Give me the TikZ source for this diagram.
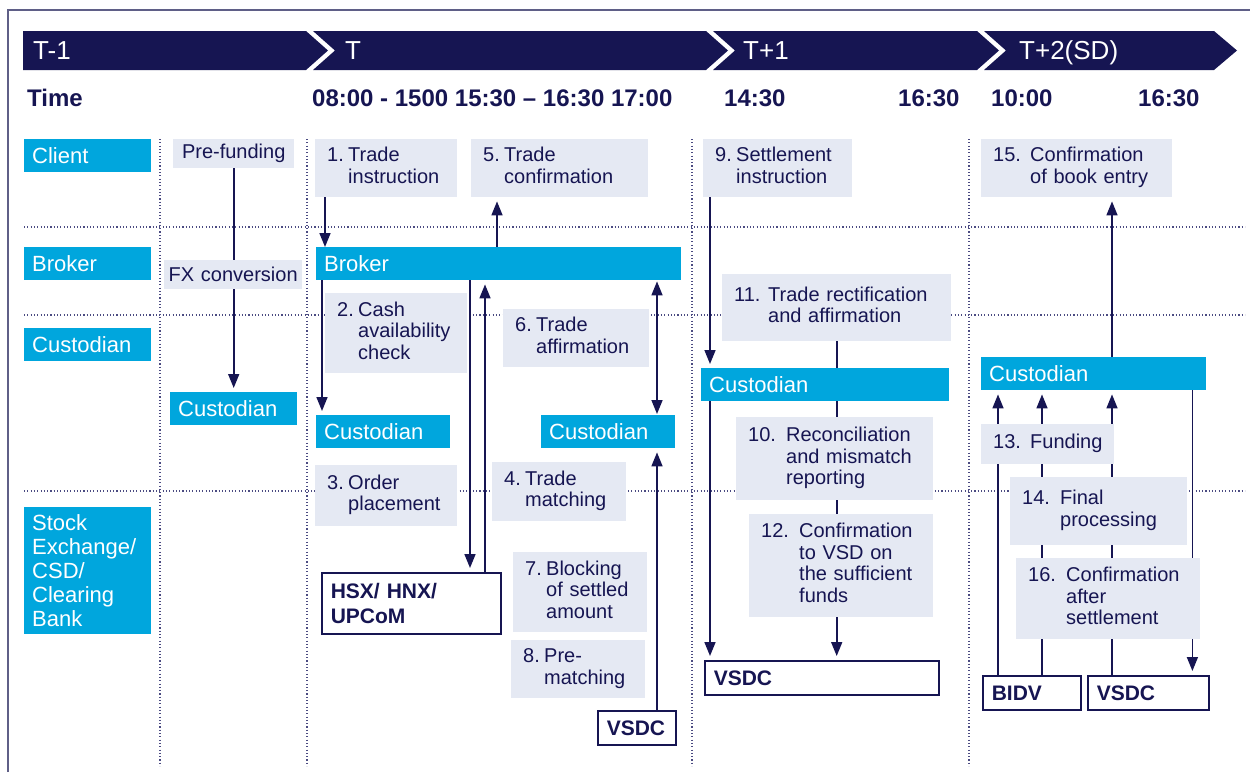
\documentclass[tikz,border=0pt]{standalone}
\usepackage{fontspec}
\setmainfont{Liberation Sans}
\usetikzlibrary{arrows.meta,backgrounds}

\definecolor{navy}{RGB}{22,21,82}
\definecolor{laneblue}{RGB}{0,166,221}
\definecolor{stepgray}{RGB}{229,233,243}
\definecolor{dotnavy}{RGB}{75,75,130}
\definecolor{framenavy}{RGB}{95,95,135}

\newcommand\stp[3][21pt]{\makebox[#1][l]{#2}\begin{tabular}[t]{@{}l@{}}#3\end{tabular}}

\begin{document}
\begin{tikzpicture}
   [x=1pt,y=-1pt,
    lanebox/.style={fill=laneblue,text=white,anchor=north west,align=left,inner xsep=8pt,inner ysep=0pt,font=\fontsize{22}{24}\selectfont},
    stepbox/.style={fill=stepgray,text=navy,anchor=north west,align=left,inner xsep=12pt,inner ysep=0pt,font=\fontsize{20}{21.5}\selectfont},
    venuebox/.style={fill=white,draw=navy,line width=1.6pt,text=navy,anchor=north west,align=left,inner xsep=9pt,inner ysep=0pt,font=\bfseries\fontsize{21}{25}\selectfont},
    daylabel/.style={text=white,anchor=base west,inner sep=0pt,font=\fontsize{26}{30}\selectfont},
    timelabel/.style={text=navy,anchor=base west,inner sep=0pt,font=\bfseries\fontsize{24}{28}\selectfont},
    laneline/.style={dotnavy,line width=1.1pt,dash pattern=on 1.1pt off 2.2pt},
    flowarrow/.style={navy,line width=1.6pt,-{Triangle[length=14pt,width=11pt]},shorten >=4pt}]
  \useasboundingbox (0,0) rectangle (1250,772);

  \fill[navy] (23,31) -- (306,31) -- (328,50.5) -- (306,70) -- (23,70) -- cycle;
  \fill[navy] (313,31) -- (706,31) -- (728,50.5) -- (706,70) -- (313,70) -- (335,50.5) -- cycle;
  \fill[navy] (713,31) -- (977,31) -- (999,50.5) -- (977,70) -- (713,70) -- (735,50.5) -- cycle;
  \fill[navy] (984,31) -- (1214,31) -- (1237,50.5) -- (1214,70) -- (984,70) -- (1006,50.5) -- cycle;
  \node[daylabel] (dT1) at (33,59) {T-1};
  \node[daylabel] (dT) at (345,59) {T};
  \node[daylabel] (dTp1) at (743,59) {T+1};
  \node[daylabel] (dTp2) at (1019,59) {T+2(SD)};

  \node[timelabel] (time) at (27,106) {Time};
  \node[timelabel] (tT) at (312,106) {08:00 - 1500 15:30 – 16:30 17:00};
  \node[timelabel] (tA) at (724,106) {14:30};
  \node[timelabel] (tB) at (898,106) {16:30};
  \node[timelabel] (tC) at (991,106) {10:00};
  \node[timelabel] (tD) at (1138,106) {16:30};

  \node[lanebox,text width=111pt,minimum height=33pt] (lclient) at (24,139) {Client};
  \node[lanebox,text width=111pt,minimum height=33pt] (lbroker) at (24,247) {Broker};
  \node[lanebox,text width=111pt,minimum height=33pt] (lcust) at (24,328) {Custodian};
  \node[lanebox,text width=111pt,minimum height=127pt] (lstock) at (24,507) {Stock\\Exchange/\\CSD/\\Clearing\\Bank};

  \node[stepbox,align=center,inner xsep=8pt,text width=105pt,minimum height=29pt] (prefund) at (173,139) {Pre-funding};
  \node[stepbox,align=center,inner xsep=3pt,text width=132pt,minimum height=29pt] (fx) at (164,260) {FX conversion};
  \node[lanebox,text width=111pt,minimum height=33pt] (custA) at (170,392) {Custodian};

  \node[stepbox,text width=118pt,minimum height=58pt] (s1) at (315,139) {\stp{1.}{Trade\\instruction}};
  \node[stepbox,text width=153pt,minimum height=58pt] (s5) at (471,139) {\stp{5.}{Trade\\confirmation}};
  \node[lanebox,text width=349pt,minimum height=33pt] (brokerT) at (316,247) {Broker};
  \node[stepbox,text width=118pt,minimum height=80pt] (s2) at (325,293) {\stp{2.}{Cash\\availability\\check}};
  \node[stepbox,text width=122pt,minimum height=58pt] (s6) at (503,309) {\stp{6.}{Trade\\affirmation}};
  \node[lanebox,text width=118pt,minimum height=33pt] (custB) at (316,415) {Custodian};
  \node[lanebox,text width=118pt,minimum height=33pt] (custC) at (541,415) {Custodian};
  \node[stepbox,text width=118pt,minimum height=61pt] (s3) at (315,465) {\stp{3.}{Order\\placement}};
  \node[stepbox,text width=110pt,minimum height=59pt] (s4) at (492,462) {\stp{4.}{Trade\\matching}};
  \node[venuebox,text width=161pt,minimum height=61pt] (hsx) at (321,572) {HSX/ HNX/\\UPCoM};
  \node[stepbox,text width=110pt,minimum height=80pt] (s7) at (513,552) {\stp{7.}{Blocking\\of settled\\amount}};
  \node[stepbox,text width=110pt,minimum height=58pt] (s8) at (511,640) {\stp{8.}{Pre-\\matching}};
  \node[venuebox,text width=60pt,minimum height=34pt] (vsdcT) at (597,710) {VSDC};

  \node[stepbox,text width=125pt,minimum height=58pt] (s9) at (703,139) {\stp{9.}{Settlement\\instruction}};
  \node[stepbox,text width=205pt,minimum height=67pt] (s11) at (722,274) {\stp[34pt]{11.}{Trade rectification\\and affirmation}};
  \node[lanebox,text width=232pt,minimum height=33pt] (custD) at (701,368) {Custodian};
  \node[stepbox,text width=173pt,minimum height=83pt] (s10) at (736,417) {\stp[38pt]{10.}{Reconciliation\\and mismatch\\reporting}};
  \node[stepbox,text width=160pt,minimum height=103pt] (s12) at (749,514) {\stp[38pt]{12.}{Confirmation\\to VSD on\\the sufficient\\funds}};
  \node[venuebox,text width=216pt,minimum height=34pt] (vsdcD) at (704,660) {VSDC};

  \node[stepbox,text width=167pt,minimum height=58pt] (s15) at (981,139) {\stp[37pt]{15.}{Confirmation\\of book entry}};
  \node[lanebox,text width=209pt,minimum height=33pt] (custE) at (981,357) {Custodian};
  \node[stepbox,text width=109pt,minimum height=40pt] (s13) at (981,424) {\stp[37pt]{13.}{Funding}};
  \node[stepbox,text width=153pt,minimum height=68pt] (s14) at (1010,477) {\stp[38pt]{14.}{Final\\processing}};
  \node[stepbox,text width=160pt,minimum height=81pt] (s16) at (1016,558) {\stp[38pt]{16.}{Confirmation\\after\\settlement}};
  \node[venuebox,text width=80pt,minimum height=34pt] (bidv) at (982,675) {BIDV};
  \node[venuebox,text width=103pt,minimum height=34pt] (vsdcE) at (1087,675) {VSDC};

  \coordinate (x1) at ([xshift=10pt]s1.south west);
  \coordinate (x5) at ([xshift=26pt]s5.south west);
  \coordinate (x2) at ([xshift=6pt]brokerT.south west);
  \coordinate (x3) at ([xshift=154pt]brokerT.south west);
  \coordinate (x4) at ([xshift=164pt]hsx.north west);
  \coordinate (x6) at ([xshift=116pt]custC.north west);
  \coordinate (x9) at ([xshift=9pt]custD.south west);
  \coordinate (x15) at ([xshift=131pt]custE.north west);
  \coordinate (x13) at ([xshift=16pt]bidv.north west);
  \coordinate (x14) at ([xshift=60pt]bidv.north west);
  \coordinate (x16) at ([xshift=-14pt]custE.south east);

  \begin{scope}[on background layer]
    \draw[framenavy,line width=2pt] (8,772) -- (8,10) -- (1250,10);
    \foreach \y in {227,315,491}
      \draw[laneline] (24,\y) -- (1245,\y);
    \foreach \x in {160,307,692,969}
      \draw[laneline] (\x,139) -- (\x,766);

    \draw[flowarrow] (prefund.south) -- (custA.north);
    \draw[flowarrow,shorten >=0pt] (x1) -- (x1 |- brokerT.north);
    \draw[flowarrow] (x5 |- brokerT.north) -- (x5);
    \draw[flowarrow] (x2) -- (x2 |- custB.north);
    \draw[flowarrow] (x3) -- (x3 |- hsx.north);
    \draw[flowarrow] (x4) -- (x4 |- brokerT.south);
    \draw[flowarrow,{Triangle[length=14pt,width=11pt]}-{Triangle[length=14pt,width=11pt]},shorten >=1pt,shorten <=1pt] (x6 |- brokerT.south) -- (x6);
    \draw[flowarrow] (x6 |- vsdcT.north) -- (x6 |- custC.south);
    \draw[flowarrow] (x9 |- s9.south) -- (x9 |- custD.north);
    \draw[flowarrow] (x9) -- (x9 |- vsdcD.north);
    \draw[flowarrow] (s11.south) -- (s11.south |- vsdcD.north);
    \draw[flowarrow] (x15) -- (x15 |- s15.south);
    \draw[flowarrow] (x13) -- (x13 |- custE.south);
    \draw[flowarrow] (x14) -- (x14 |- custE.south);
    \draw[flowarrow] (x15 |- vsdcE.north) -- (x15 |- custE.south);
    \draw[flowarrow] (x16) -- (x16 |- vsdcE.north);
  \end{scope}

\end{tikzpicture}
\end{document}
